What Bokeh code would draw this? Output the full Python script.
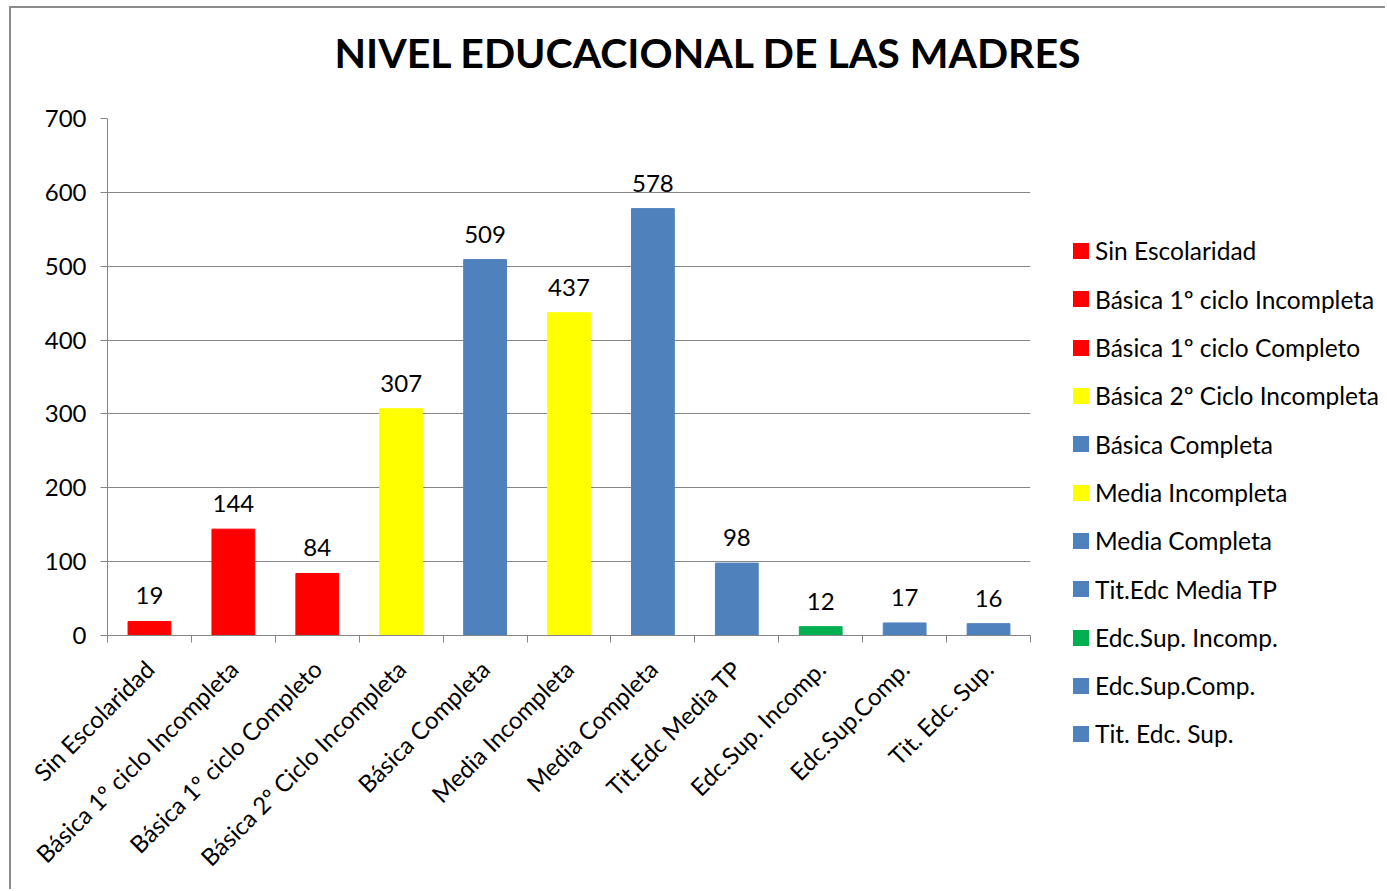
from math import pi
from bokeh.plotting import figure
from bokeh.layouts import column, row
from bokeh.models import (ColumnDataSource, FixedTicker, LinearAxis, Range1d,
                          LabelSet, Div)
from bokeh.core.properties import value
from bokeh.embed import file_html
from bokeh.resources import INLINE

categories = ["Sin Escolaridad", "Básica 1º ciclo Incompleta", "Básica 1º ciclo Completo",
              "Básica 2º Ciclo Incompleta", "Básica Completa", "Media Incompleta",
              "Media Completa", "Tit.Edc Media TP", "Edc.Sup. Incomp.",
              "Edc.Sup.Comp.", "Tit. Edc. Sup."]
values = [19, 144, 84, 307, 509, 437, 578, 98, 12, 17, 16]
colors = ["#FF0000", "#FF0000", "#FF0000", "#FFFF00", "#4F81BD", "#FFFF00",
          "#4F81BD", "#4F81BD", "#00B050", "#4F81BD", "#4F81BD"]
y_ticks = [0, 100, 200, 300, 400, 500, 600, 700]
title_text = "NIVEL EDUCACIONAL DE LAS MADRES"

FONT = "Lato"
GRAY = "#868686"

xs = [i + 0.5 for i in range(len(categories))]
src = ColumnDataSource(dict(x=xs, top=values, color=colors, cat=categories,
                            lbl=[str(v) for v in values]))

# ---------------- main chart ----------------
p = figure(width=1030, height=791, output_backend="svg", toolbar_location=None,
           x_range=Range1d(0, len(categories)), y_range=Range1d(0, 700),
           min_border_left=96, min_border_right=11, min_border_top=20,
           min_border_bottom=254, margin=0)
p.outline_line_color = None
p.background_fill_color = "white"
p.border_fill_color = "white"

r = p.vbar(x="x", top="top", width=0.51, color="color", source=src)

p.add_layout(LabelSet(x="x", y="top", text="lbl", source=src, text_align="center",
                      text_baseline="alphabetic", y_offset=17,
                      text_font=value(FONT), text_font_size="24px", text_color="black"))

# y axis
p.yaxis.ticker = FixedTicker(ticks=y_ticks)
p.yaxis.axis_line_color = GRAY
p.yaxis.major_tick_line_color = GRAY
p.yaxis.major_tick_in = 0
p.yaxis.major_tick_out = 7
p.yaxis.minor_tick_line_color = None
p.yaxis.major_label_standoff = 14
p.yaxis.major_label_text_font = FONT
p.yaxis.major_label_text_font_size = "24px"
p.yaxis.major_label_text_color = "black"
p.ygrid.ticker = FixedTicker(ticks=y_ticks)
p.ygrid.grid_line_color = GRAY
p.xgrid.grid_line_color = None

# x axis: ticks at category boundaries
p.xaxis.ticker = FixedTicker(ticks=list(range(len(categories) + 1)))
p.xaxis.axis_line_color = GRAY
p.xaxis.major_tick_line_color = GRAY
p.xaxis.major_tick_in = 0
p.xaxis.major_tick_out = 7
p.xaxis.minor_tick_line_color = None
p.xaxis.major_label_text_font_size = "0px"
p.xaxis.major_label_standoff = 0
p.xaxis.major_label_overrides = {i: "" for i in range(len(categories) + 1)}

# x axis: category labels
lab_axis = LinearAxis(ticker=FixedTicker(ticks=xs),
                      major_label_overrides={x: c for x, c in zip(xs, categories)})
lab_axis.axis_line_color = None
lab_axis.major_tick_line_color = None
lab_axis.minor_tick_line_color = None
lab_axis.major_tick_out = 0
lab_axis.major_tick_in = 0
lab_axis.major_label_orientation = pi / 4
lab_axis.major_label_standoff = 22
lab_axis.major_label_text_font = FONT
lab_axis.major_label_text_font_size = "24px"
lab_axis.major_label_text_color = "black"
p.add_layout(lab_axis, "below")

# ---------------- legend (one entry per bar, same colours) ----------------
entries = "".join(
    f'<div style="display:flex; align-items:center; height:48.3px;">'
    f'<span style="display:inline-block; width:16px; height:16px; background:{c}; '
    f'margin-right:6px; flex:none;"></span>'
    f'<span style="white-space:nowrap;">{name}</span></div>'
    for name, c in zip(categories, colors))
legend_div = Div(text=(f'<div style="padding-top:129px; padding-left:32px; '
                       f'font-family:{FONT}; font-size:24.5px; color:black; '
                       f'line-height:1.2;">{entries}</div>'),
                 width=344, height=791, margin=0)

# ---------------- title ----------------
title = Div(text=(f'<div style="box-sizing:border-box; width:1374px; padding-left:19px; '
                  f'padding-top:24px; text-align:center; font-family:{FONT}; '
                  f'font-weight:bold; font-size:41px; line-height:41px; color:black; '
                  f'white-space:nowrap;">{title_text}</div>'),
            width=1374, height=90, margin=0)

layout = column(title, row(p, legend_div, margin=0), margin=0,
                styles={"margin-left": "9px", "margin-top": "6px",
                        "border-left": "2px solid #8c8c8c",
                        "border-top": "2px solid #8c8c8c",
                        "background-color": "white"})

open("out.html", "w").write(file_html(layout, INLINE))
